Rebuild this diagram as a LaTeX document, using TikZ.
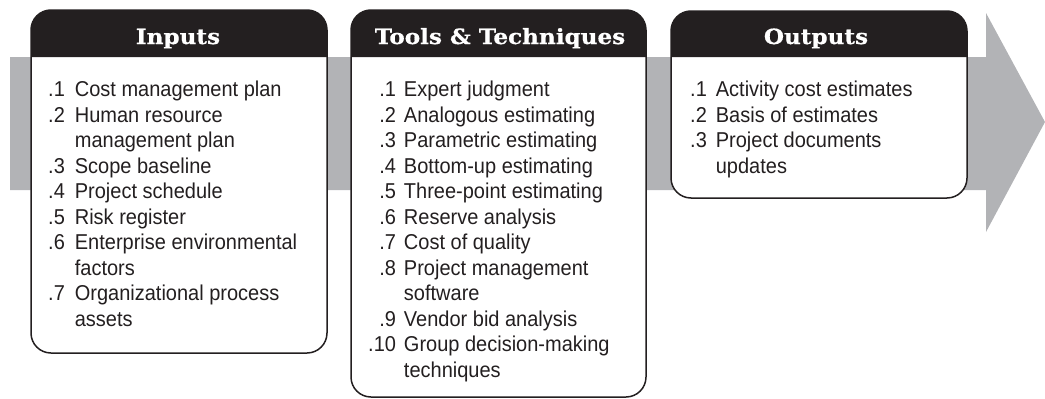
\documentclass[tikz,border=0pt]{standalone}
\usepackage{fontspec}
\setmainfont{Liberation Sans}[FakeStretch=0.93]
\newfontfamily\hdrfont{DejaVu Serif Bold}[FakeStretch=1.1,FakeBold=0.6]
\usepackage{array}
\definecolor{hdrblack}{HTML}{231F20}
\definecolor{arrowgray}{HTML}{B2B3B6}
\begin{document}
\begin{tikzpicture}[x=1pt,y=-1pt,
  boxline/.style={draw=hdrblack,line width=1.5pt,rounded corners=20pt},
  hdrtext/.style={text=white,font=\hdrfont\fontsize{21}{24}\selectfont,anchor=base,inner sep=0pt},
  listtext/.style={text=hdrblack,font=\fontsize{21.5}{25.5}\selectfont,anchor=base west,inner sep=0pt,align=left}]
\useasboundingbox (0,0) rectangle (1045,399);
% big gray arrow
\fill[arrowgray] (10,57) -- (986,57) -- (986,13) -- (1045,122) -- (986,232) -- (986,190) -- (10,190) -- cycle;
% boxes
\newcommand{\procbox}[4]{%
  \fill[white,rounded corners=20pt] (#1,#2) rectangle (#3,#4);
  \fill[hdrblack] (#1,57) [rounded corners=20pt]-- (#1,#2) -- (#3,#2) [sharp corners]-- (#3,57) -- cycle;
  \draw[boxline] (#1,#2) rectangle (#3,#4);
}
\procbox{31}{10}{327}{353}
\procbox{351}{10}{646}{397}
\procbox{671}{11}{967}{198}
% headers
\node[hdrtext] (hin) at (178,44) {Inputs};
\node[hdrtext] (htt) at (500,44) {Tools \& Techniques};
\node[hdrtext] (hout) at (816,44) {Outputs};
% lists
\node[listtext] (lin) at (48,96.7) {\begin{tabular}[t]{@{}r@{\hspace{10pt}}l@{}}
.1 & Cost management plan\\
.2 & Human resource\\
   & management plan\\
.3 & Scope baseline\\
.4 & Project schedule\\
.5 & Risk register\\
.6 & Enterprise environmental\\
   & factors\\
.7 & Organizational process\\
   & assets
\end{tabular}};
\node[listtext] (ltt) at (368,96.7) {\begin{tabular}[t]{@{}r@{\hspace{8pt}}l@{}}
.1 & Expert judgment\\
.2 & Analogous estimating\\
.3 & Parametric estimating\\
.4 & Bottom-up estimating\\
.5 & Three-point estimating\\
.6 & Reserve analysis\\
.7 & Cost of quality\\
.8 & Project management\\
   & software\\
.9 & Vendor bid analysis\\
.10 & Group decision-making\\
   & techniques
\end{tabular}};
\node[listtext] (lout) at (690,96.7) {\begin{tabular}[t]{@{}r@{\hspace{9pt}}l@{}}
.1 & Activity cost estimates\\
.2 & Basis of estimates\\
.3 & Project documents\\
   & updates
\end{tabular}};
\end{tikzpicture}
\end{document}
